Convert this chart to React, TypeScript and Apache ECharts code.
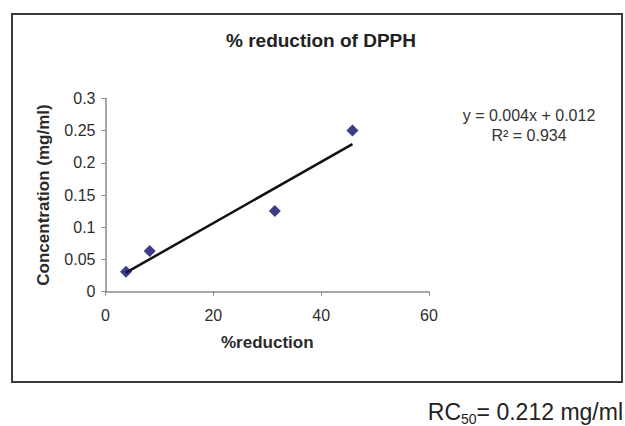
import React, { useEffect, useRef } from "react";
import * as echarts from "echarts";

// Data
const reductionPct = [3.8, 8.2, 31.4, 45.8];
const concentration = [0.031, 0.063, 0.125, 0.25];
// Trend line end points as drawn in the picture
const trendX = [3.8, 45.8];
const trendY = [0.0295, 0.229];

const titleText = "% reduction of DPPH";
const xName = "%reduction";
const yName = "Concentration (mg/ml)";
const equationLines = ["y = 0.004x + 0.012", "R² = 0.934"];

const FONT = "Arial, 'Liberation Sans', Helvetica, sans-serif";

export default function App() {
  const ref = useRef<HTMLDivElement>(null);

  useEffect(() => {
    if (!ref.current) return;
    const chart = echarts.init(ref.current, null, { renderer: "svg" });
    const scatterData = reductionPct.map((x, i) => [x, concentration[i]]);
    const trendData = trendX.map((x, i) => [x, trendY[i]]);

    chart.setOption({
      animation: false,
      backgroundColor: "#ffffff",
      textStyle: { fontFamily: FONT },
      grid: { left: 105.5, top: 98.3, width: 323.5, height: 193.4 },
      xAxis: {
        type: "value",
        min: 0,
        max: 60,
        interval: 20,
        name: xName,
        nameLocation: "middle",
        nameGap: 42,
        nameTextStyle: { fontSize: 17, fontWeight: "bold", color: "#2a2a2a", fontFamily: FONT },
        axisLine: { show: true, onZero: false, lineStyle: { color: "#8a8a8a", width: 1.5 } },
        axisTick: { show: true, length: 4, lineStyle: { color: "#8a8a8a" } },
        axisLabel: { fontSize: 16, color: "#2e2e2e", margin: 16, fontFamily: FONT },
        splitLine: { show: false },
      },
      yAxis: {
        type: "value",
        min: 0,
        max: 0.3,
        interval: 0.05,
        name: yName,
        nameLocation: "middle",
        nameGap: 54,
        nameTextStyle: { fontSize: 17, fontWeight: "bold", color: "#2a2a2a", fontFamily: FONT },
        axisLine: { show: true, lineStyle: { color: "#8a8a8a", width: 1.5 } },
        axisTick: { show: true, length: 4, lineStyle: { color: "#8a8a8a" } },
        axisLabel: { fontSize: 16, color: "#2e2e2e", margin: 10, fontFamily: FONT },
        splitLine: { show: false },
      },
      series: [
        {
          type: "line",
          data: trendData,
          showSymbol: false,
          symbol: "none",
          lineStyle: { color: "#111", width: 2.5 },
          z: 2,
        },
        {
          type: "scatter",
          data: scatterData,
          symbol: "diamond",
          symbolSize: 12,
          itemStyle: { color: "#0c0c66" },
          z: 3,
        },
      ],
      graphic: [
        {
          type: "rect",
          shape: { x: 12, y: 14, width: 610, height: 368 },
          style: { fill: "none", stroke: "#3a3a3a", lineWidth: 2 },
          z: 0,
        },
        {
          type: "text",
          x: 321,
          y: 40,
          style: {
            text: titleText,
            fontSize: 19,
            fontWeight: "bold",
            fontFamily: FONT,
            fill: "#222",
            align: "center",
            verticalAlign: "middle",
          },
        },
        {
          type: "text",
          x: 529,
          y: 115,
          style: {
            text: equationLines[0],
            fontSize: 16,
            fontFamily: FONT,
            fill: "#333",
            align: "center",
            verticalAlign: "middle",
          },
        },
        {
          type: "text",
          x: 529,
          y: 135,
          style: {
            text: equationLines[1],
            fontSize: 16,
            fontFamily: FONT,
            fill: "#333",
            align: "center",
            verticalAlign: "middle",
          },
        },
        {
          type: "text",
          x: 623,
          y: 412,
          style: {
            text: "{a|RC}{b|50}{a|= 0.212 mg/ml}",
            fontFamily: FONT,
            fill: "#222",
            align: "right",
            verticalAlign: "middle",
            rich: {
              a: { fontSize: 23, fontFamily: FONT, fill: "#222", lineHeight: 28 },
              b: { fontSize: 14, fontFamily: FONT, fill: "#222", verticalAlign: "bottom", lineHeight: 12 },
            },
          },
        },
      ],
    });
    return () => chart.dispose();
  }, []);

  return (
    <div
      ref={ref}
      style={{ position: "fixed", left: 0, top: 0, width: 625, height: 426, background: "#fff" }}
    />
  );
}
